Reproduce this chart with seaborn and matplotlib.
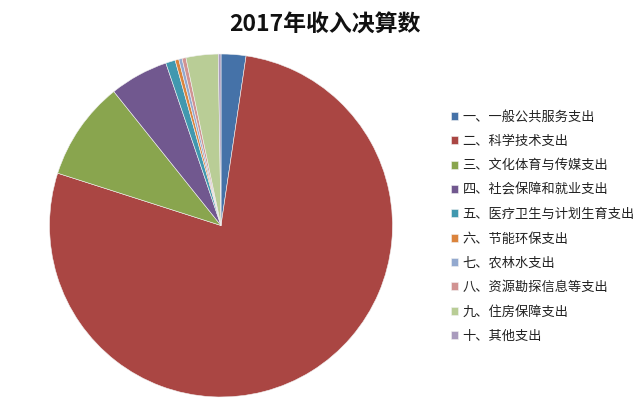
import matplotlib
matplotlib.use('Agg')
import matplotlib.pyplot as plt
import seaborn as sns

# 2017年收入决算数 - 各项支出占比 (%)
categories = ['一、一般公共服务支出', '二、科学技术支出', '三、文化体育与传媒支出',
              '四、社会保障和就业支出', '五、医疗卫生与计划生育支出', '六、节能环保支出',
              '七、农林水支出', '八、资源勘探信息等支出', '九、住房保障支出', '十、其他支出']
shares = [2.34, 77.6, 9.33, 5.53, 0.90, 0.35, 0.31, 0.37, 3.03, 0.25]
colors = ['#4572A8', '#AA4643', '#89A54E', '#71588F', '#4198AF',
          '#DB843D', '#93A9CF', '#D19392', '#B9CD96', '#A99BBD']

sns.set_theme(style='white')
plt.rcParams['font.family'] = ['Noto Sans CJK SC', 'DejaVu Sans']

fig = plt.figure(figsize=(6.41, 4.05), dpi=100)
ax = fig.add_axes([49.5 / 641, 8 / 405, 343 / 641, 343 / 405])

wedges, _ = ax.pie(shares, colors=sns.color_palette(colors), startangle=90,
                   counterclock=False, radius=1,
                   wedgeprops={'linewidth': 0.4, 'edgecolor': '#f2f2f2'})
ax.set_xlim(-1, 1)
ax.set_ylim(-1, 1)
ax.set_aspect('equal')
ax.axis('off')

fig.text(325 / 641, 1 - 25 / 405, '2017年收入决算数', ha='center', va='center',
         fontsize=16.5, fontweight='bold', color='#111111')

leg = fig.legend(wedges, categories, loc='upper left',
                 bbox_to_anchor=(444 / 641, 1 - 104 / 405), frameon=False,
                 fontsize=9.5, labelspacing=0.86, handlelength=0.55,
                 handleheight=0.55, handletextpad=0.35, borderpad=0)
for t in leg.get_texts():
    t.set_color('#222222')

fig.savefig('out.png', dpi=100)
